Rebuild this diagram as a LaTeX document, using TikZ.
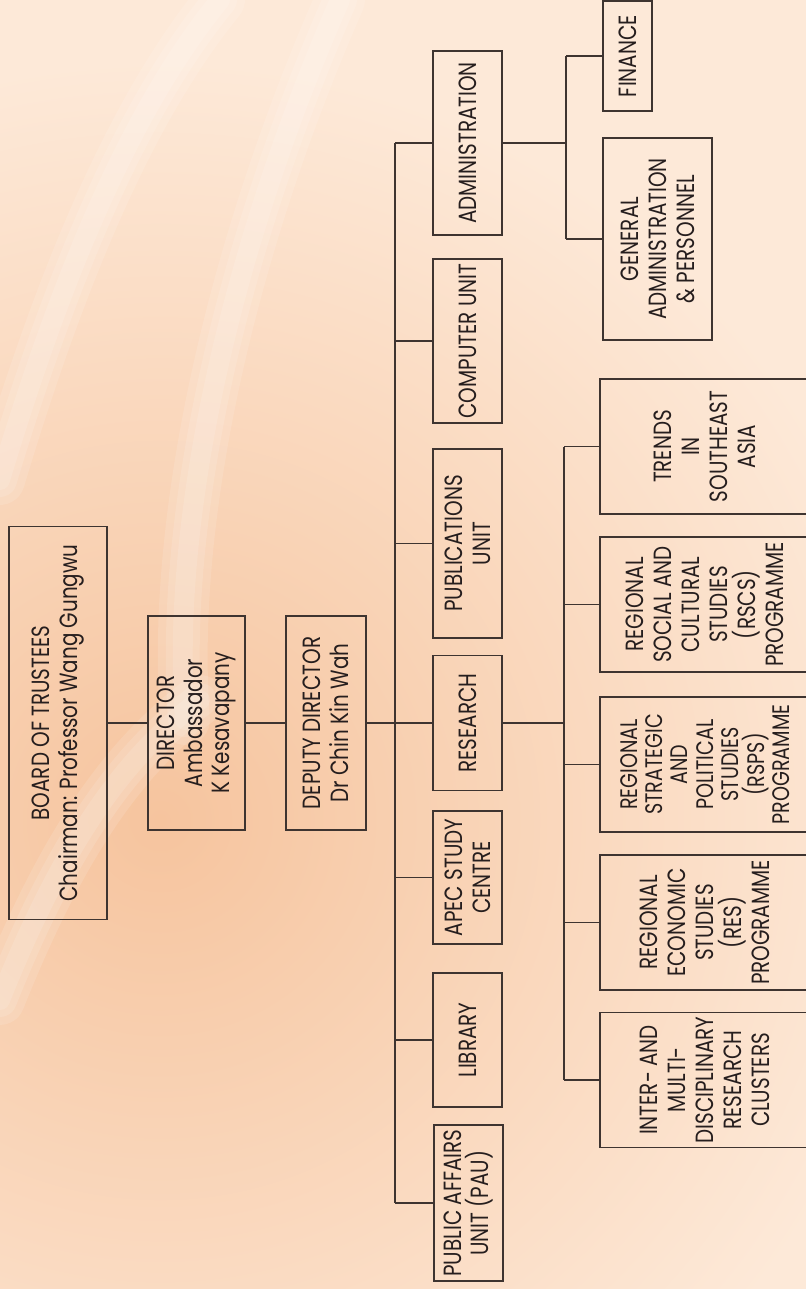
\documentclass[tikz,border=0pt]{standalone}
\usepackage{fontspec}
\setmainfont[FakeStretch=0.8]{Poppins}
\usetikzlibrary{positioning}
\definecolor{peachdark}{RGB}{246,196,158}
\definecolor{peachlight}{RGB}{253,233,216}
\definecolor{inkline}{RGB}{62,52,48}
\definecolor{inktext}{RGB}{38,30,30}
\tikzset{
  orgbox/.style={draw=inkline, line width=1.2bp, rotate=90, align=center,
    inner sep=0pt, text=inktext, font=\fontsize{25}{28}\selectfont},
  unitbox/.style={orgbox, minimum height=69bp},
  progbox/.style={orgbox, minimum width=135bp, minimum height=210bp},
  link/.style={draw=inkline, line width=1.2bp},
  streak/.style={white, line cap=round, opacity=0.12, line width=#1}
}

\begin{document}
\begin{tikzpicture}[x=1bp,y=-1bp]
  \useasboundingbox (0,0) rectangle (806,1289);
  \clip (0,0) rectangle (806,1289);
  % background
  \fill[peachlight] (0,0) rectangle (806,1289);
  \shade[inner color=peachdark, outer color=peachlight] (160,820) circle (760);
  \foreach \w in {50,34,20} {
    \draw[streak=\w] (0,480) .. controls (60,280) and (130,110) .. (220,0);
    \draw[streak=\w] (185,720) .. controls (170,520) and (230,250) .. (340,0);
    \draw[streak=\w] (0,1000) .. controls (60,850) and (120,760) .. (200,700);
  }

  % top of the chart
  \node[orgbox, minimum width=393bp, minimum height=98bp] (board) at (58,723)
    {BOARD OF TRUSTEES\\Chairman: Professor Wang Gungwu};
  \node[orgbox, minimum width=214bp, minimum height=97bp] (director) at (196.5,723)
    {DIRECTOR\\Ambassador\\K Kesavapany};
  \node[orgbox, minimum width=214bp, minimum height=80bp] (deputy) at (326,723)
    {DEPUTY DIRECTOR\\Dr Chin Kin Wah};

  % units under the deputy director
  \node[unitbox, minimum width=184bp] (admin) at (467.5,143) {ADMINISTRATION};
  \node[unitbox, minimum width=164bp] (computer) at (467.5,341) {COMPUTER UNIT};
  \node[unitbox, minimum width=189bp] (pubs) at (467.5,543.5) {PUBLICATIONS\\UNIT};
  \node[unitbox, minimum width=135bp] (research) at (467.5,723) {RESEARCH};
  \node[unitbox, minimum width=133bp] (apec) at (467.5,877.5) {APEC STUDY\\CENTRE};
  \node[unitbox, minimum width=134bp] (library) at (467.5,1040) {LIBRARY};
  \node[unitbox, minimum width=156bp] (pau) at (468.5,1203) {PUBLIC AFFAIRS\\UNIT (PAU)};

  % administration
  \node[orgbox, minimum width=110bp, minimum height=49bp] (finance) at (627.5,56) {FINANCE};
  \node[orgbox, minimum width=202bp, minimum height=109bp] (genadmin) at (657.5,239)
    {GENERAL\\ADMINISTRATION\\\& PERSONNEL};

  % research programmes
  \node[progbox] (trends) at (705,446.5) {TRENDS\\IN\\SOUTHEAST\\ASIA};
  \node[progbox] (rscs) at (705,604.5)
    {REGIONAL\\SOCIAL AND\\CULTURAL\\STUDIES\\(RSCS)\\PROGRAMME};
  \node[progbox, font=\fontsize{24}{25.5}\selectfont] (rsps) at (705,764.5)
    {REGIONAL\\STRATEGIC\\AND\\POLITICAL\\STUDIES\\(RSPS)\\PROGRAMME};
  \node[progbox] (resp) at (705,922.5)
    {REGIONAL\\ECONOMIC\\STUDIES\\(RES)\\PROGRAMME};
  \node[progbox] (inter) at (705,1080)
    {INTER- AND\\MULTI-\\DISCIPLINARY\\RESEARCH\\CLUSTERS};

  % connectors
  \coordinate (trunk) at (395,0);
  \coordinate (abus) at (566,0);
  \coordinate (rbus) at (564,0);
  \draw[link] (board.south) -- (director.north);
  \draw[link] (director.south) -- (deputy.north);
  \draw[link] (deputy.south) -- (research.north);
  \draw[link] (trunk |- admin.north) -- (trunk |- pau.north);
  \foreach \u in {admin,computer,pubs,apec,library,pau}
    \draw[link] (trunk |- \u.north) -- (\u.north);

  \draw[link] (admin.south) -- (abus |- admin.south);
  \draw[link] (abus |- finance.north) -- (abus |- genadmin.north);
  \foreach \u in {finance,genadmin}
    \draw[link] (abus |- \u.north) -- (\u.north);

  \draw[link] (research.south) -- (rbus |- research.south);
  \draw[link] (rbus |- trends.north) -- (rbus |- inter.north);
  \foreach \u in {trends,rscs,rsps,resp,inter}
    \draw[link] (rbus |- \u.north) -- (\u.north);
\end{tikzpicture}
\end{document}
